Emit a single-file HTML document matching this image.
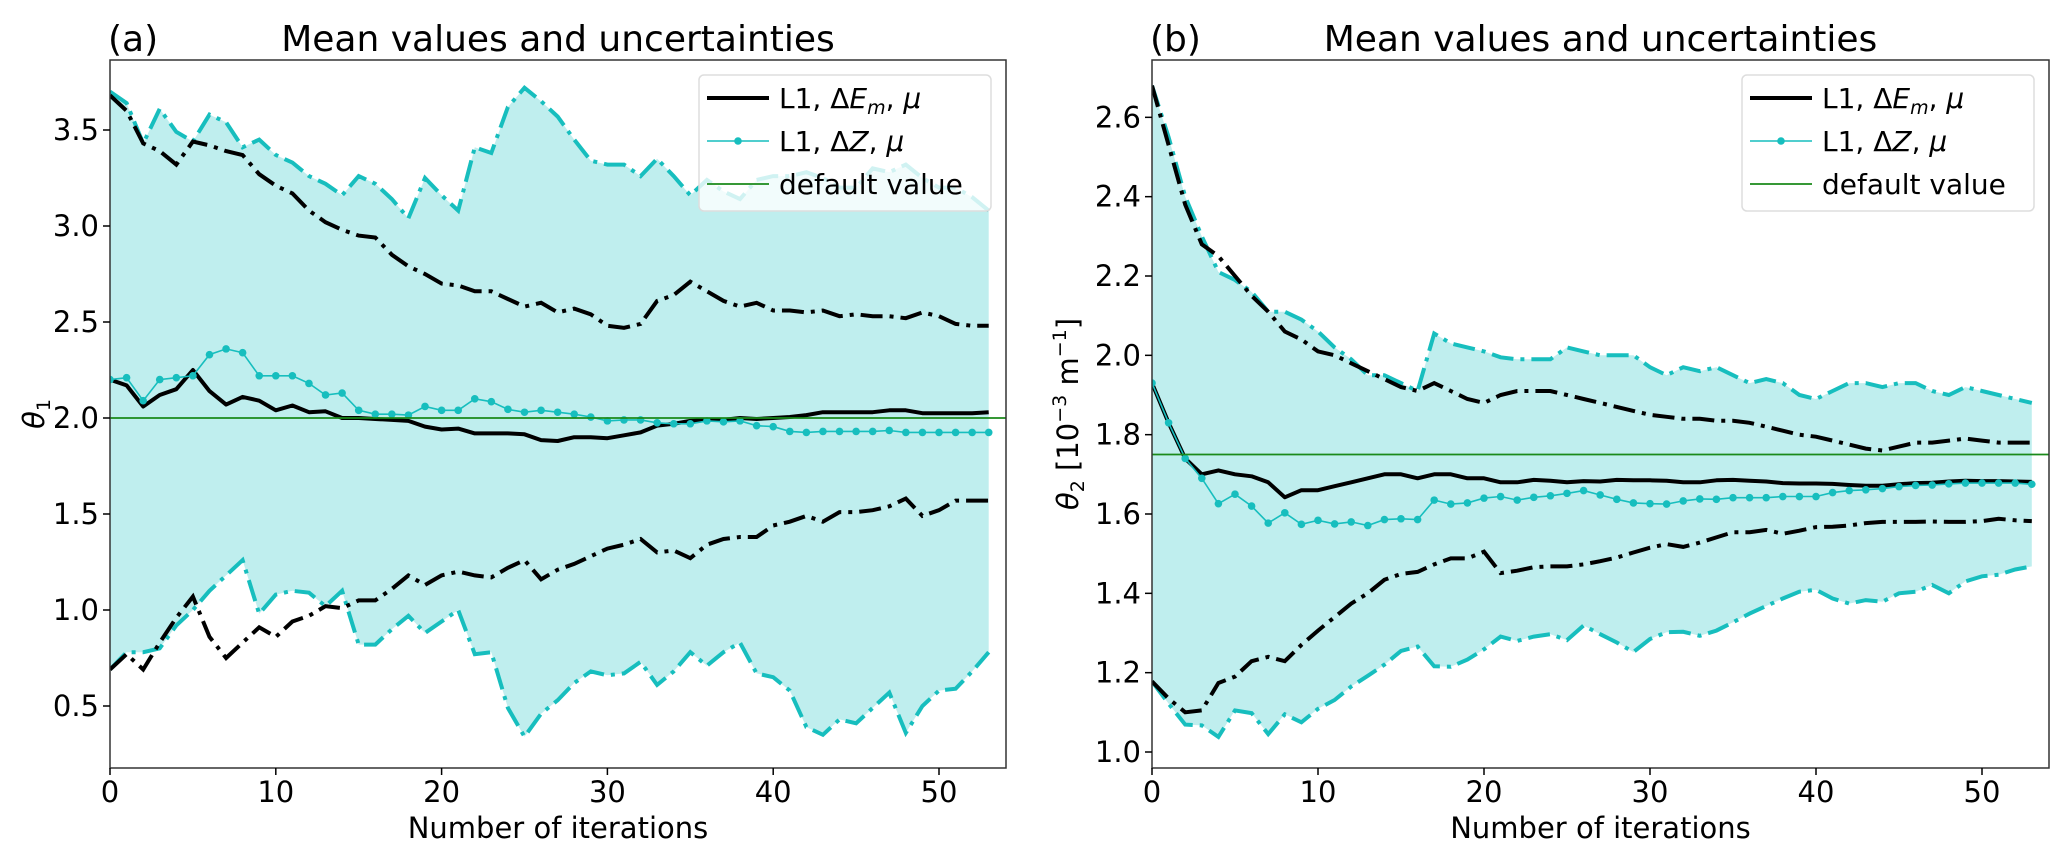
<!DOCTYPE html>
<html><head><meta charset="utf-8"><style>
html,body{margin:0;padding:0;background:#fff}
svg{display:block;font-family:"DejaVu Sans","Liberation Sans",sans-serif}
</style></head><body>
<svg id="fig" width="2067" height="849" viewBox="0 0 2067 849" xmlns="http://www.w3.org/2000/svg"></svg>
<script>
const iterations = Array.from({length:54},(_,i)=>i);
// Panel (a)
const aMeanE = [2.20,2.17,2.06,2.12,2.15,2.25,2.14,2.07,2.11,2.09,2.04,2.065,2.03,2.035,2.0,2.0,1.995,1.99,1.985,1.955,1.94,1.945,1.92,1.92,1.92,1.915,1.885,1.88,1.9,1.9,1.895,1.91,1.925,1.96,1.97,1.985,1.99,1.99,2.0,1.995,2.0,2.005,2.015,2.03,2.03,2.03,2.03,2.04,2.04,2.025,2.025,2.025,2.025,2.03];
const aUpE = [3.68,3.60,3.43,3.39,3.32,3.44,3.42,3.39,3.37,3.27,3.21,3.17,3.08,3.02,2.98,2.95,2.94,2.85,2.79,2.75,2.70,2.69,2.66,2.66,2.62,2.58,2.60,2.55,2.57,2.54,2.48,2.47,2.49,2.61,2.64,2.71,2.66,2.61,2.58,2.60,2.56,2.56,2.55,2.56,2.53,2.54,2.53,2.53,2.52,2.55,2.53,2.49,2.48,2.48];
const aLoE = [0.69,0.77,0.69,0.83,0.96,1.07,0.86,0.75,0.83,0.91,0.86,0.94,0.97,1.02,1.01,1.05,1.05,1.11,1.18,1.13,1.18,1.20,1.18,1.17,1.22,1.26,1.16,1.21,1.24,1.28,1.32,1.34,1.37,1.30,1.31,1.27,1.34,1.37,1.38,1.38,1.44,1.46,1.49,1.46,1.51,1.51,1.52,1.54,1.58,1.49,1.52,1.57,1.57,1.57];
const aMeanZ = [2.20,2.21,2.09,2.20,2.21,2.22,2.33,2.36,2.34,2.22,2.22,2.22,2.18,2.12,2.13,2.04,2.02,2.02,2.015,2.06,2.04,2.04,2.10,2.085,2.045,2.03,2.04,2.03,2.02,2.005,1.985,1.99,1.99,1.975,1.97,1.97,1.985,1.98,1.985,1.96,1.955,1.93,1.925,1.93,1.93,1.93,1.93,1.935,1.925,1.925,1.925,1.925,1.925,1.925];
const aUpZ = [3.70,3.64,3.43,3.61,3.49,3.44,3.58,3.54,3.41,3.45,3.37,3.33,3.26,3.22,3.16,3.26,3.22,3.14,3.04,3.25,3.16,3.08,3.41,3.38,3.62,3.72,3.65,3.57,3.45,3.34,3.32,3.32,3.26,3.35,3.26,3.16,3.24,3.18,3.14,3.24,3.26,3.26,3.28,3.25,3.20,3.20,3.30,3.28,3.32,3.25,3.20,3.20,3.15,3.08];
const aLoZ = [0.69,0.78,0.78,0.80,0.92,1.00,1.10,1.18,1.26,0.98,1.08,1.10,1.09,1.02,1.10,0.82,0.82,0.90,0.97,0.88,0.94,1.00,0.77,0.78,0.49,0.34,0.46,0.53,0.62,0.68,0.66,0.67,0.73,0.61,0.68,0.78,0.71,0.78,0.83,0.67,0.65,0.58,0.39,0.35,0.43,0.41,0.49,0.57,0.36,0.50,0.58,0.59,0.68,0.78];
const aDefault = 2.0;
const aYTicks = [0.5,1.0,1.5,2.0,2.5,3.0,3.5];
// Panel (b)
const bMeanE = [1.93,1.83,1.74,1.70,1.71,1.70,1.695,1.68,1.642,1.66,1.66,1.67,1.68,1.69,1.70,1.70,1.69,1.70,1.70,1.69,1.69,1.68,1.68,1.686,1.684,1.68,1.683,1.682,1.686,1.685,1.685,1.684,1.68,1.68,1.685,1.686,1.684,1.682,1.678,1.677,1.677,1.676,1.673,1.671,1.671,1.675,1.678,1.679,1.682,1.684,1.683,1.683,1.682,1.681];
const bUpE = [2.68,2.53,2.38,2.28,2.25,2.20,2.15,2.11,2.06,2.04,2.01,2.0,1.98,1.96,1.94,1.92,1.91,1.93,1.91,1.89,1.88,1.90,1.91,1.91,1.91,1.90,1.89,1.88,1.87,1.86,1.85,1.845,1.84,1.84,1.835,1.835,1.83,1.82,1.81,1.80,1.795,1.785,1.775,1.765,1.76,1.77,1.78,1.78,1.785,1.79,1.785,1.78,1.78,1.78];
const bLoE = [1.178,1.135,1.10,1.105,1.174,1.19,1.229,1.24,1.229,1.27,1.306,1.34,1.374,1.40,1.434,1.449,1.454,1.473,1.488,1.488,1.505,1.451,1.457,1.466,1.468,1.468,1.473,1.481,1.49,1.503,1.515,1.524,1.517,1.528,1.541,1.554,1.554,1.56,1.55,1.558,1.567,1.568,1.571,1.577,1.58,1.58,1.58,1.581,1.58,1.58,1.582,1.588,1.584,1.582];
const bMeanZ = [1.93,1.83,1.74,1.69,1.626,1.65,1.62,1.577,1.603,1.574,1.584,1.575,1.58,1.571,1.586,1.588,1.586,1.635,1.625,1.628,1.64,1.644,1.635,1.642,1.646,1.652,1.659,1.648,1.637,1.628,1.626,1.625,1.633,1.638,1.637,1.641,1.641,1.641,1.644,1.644,1.644,1.654,1.659,1.661,1.664,1.669,1.672,1.673,1.676,1.678,1.678,1.678,1.678,1.675];
const bUpZ = [2.68,2.55,2.40,2.30,2.21,2.19,2.16,2.11,2.11,2.09,2.06,2.02,1.99,1.95,1.95,1.93,1.91,2.055,2.03,2.02,2.01,1.995,1.99,1.99,1.99,2.02,2.01,2.0,2.0,2.0,1.97,1.95,1.97,1.96,1.97,1.95,1.93,1.94,1.93,1.90,1.89,1.91,1.93,1.93,1.92,1.93,1.93,1.91,1.90,1.92,1.91,1.90,1.89,1.88];
const bLoZ = [1.178,1.122,1.069,1.067,1.038,1.105,1.098,1.045,1.095,1.075,1.109,1.131,1.165,1.192,1.22,1.255,1.266,1.216,1.215,1.233,1.259,1.291,1.28,1.291,1.297,1.282,1.319,1.297,1.276,1.252,1.285,1.302,1.303,1.293,1.306,1.327,1.349,1.368,1.387,1.404,1.409,1.387,1.374,1.383,1.379,1.40,1.404,1.421,1.40,1.43,1.443,1.447,1.46,1.468];
const bDefault = 1.75;
const bYTicks = [1.0,1.2,1.4,1.6,1.8,2.0,2.2,2.4,2.6];
const xTicks = [0,10,20,30,40,50];

const NS="http://www.w3.org/2000/svg";
const svg=document.getElementById('fig');
function el(tag,attrs,parent){const e=document.createElementNS(NS,tag);for(const k in attrs)e.setAttribute(k,attrs[k]);(parent||svg).appendChild(e);return e;}

function panel(cfg){
  const g=el('g',{});
  
  
  const X=v=>cfg.left+(v-0)*(cfg.x50-cfg.left)/50;
  const Y=v=>cfg.yRef1+(v-cfg.vRef1)*(cfg.yRef2-cfg.yRef1)/(cfg.vRef2-cfg.vRef1);
  const cid='clip'+cfg.tag;
  const cp=el('clipPath',{id:cid},g);el('rect',{x:cfg.left,y:cfg.top,width:cfg.right-cfg.left,height:cfg.bottom-cfg.top},cp);
  const pg=el('g',{'clip-path':'url(#'+cid+')'},g);
  const pts=arr=>arr.map((v,i)=>X(iterations[i]).toFixed(1)+','+Y(v).toFixed(1));
  const fill=el('polygon',{points:pts(cfg.upZ).concat(pts(cfg.loZ).reverse()).join(' '),fill:'#bfeeee',stroke:'none'},pg);
  
  
  const dd='22 7 4 7';
  const l1=el('polyline',{points:pts(cfg.upZ).join(' '),fill:'none',stroke:'#17bebe','stroke-width':4,'stroke-dasharray':dd},pg);
  
  
  const l2=el('polyline',{points:pts(cfg.loZ).join(' '),fill:'none',stroke:'#17bebe','stroke-width':4,'stroke-dasharray':dd},pg);
  
  
  const l3=el('polyline',{points:pts(cfg.upE).join(' '),fill:'none',stroke:'#000','stroke-width':4,'stroke-dasharray':dd},pg);
  
  
  const l4=el('polyline',{points:pts(cfg.loE).join(' '),fill:'none',stroke:'#000','stroke-width':4,'stroke-dasharray':dd},pg);
  
  
  const l5=el('polyline',{points:pts(cfg.meanE).join(' '),fill:'none',stroke:'#000','stroke-width':4,'stroke-linejoin':'round'},pg);
  
  
  const l6=el('polyline',{points:pts(cfg.meanZ).join(' '),fill:'none',stroke:'#17bebe','stroke-width':1.6},pg);
  
  
  cfg.meanZ.forEach((v,i)=>{const c=el('circle',{cx:X(iterations[i]),cy:Y(v),r:3.8,fill:'#17bebe'},pg);
    
    });
  const gl=el('line',{x1:cfg.left,x2:cfg.right,y1:Y(cfg.def),y2:Y(cfg.def),stroke:'#1a8a1a','stroke-width':1.8},pg);
  
  
  const fr=el('rect',{x:cfg.left,y:cfg.top,width:cfg.right-cfg.left,height:cfg.bottom-cfg.top,fill:'none',stroke:'#333','stroke-width':1.5},g);
  
  
  xTicks.forEach(t=>{const x=X(t);el('line',{x1:x,x2:x,y1:cfg.bottom,y2:cfg.bottom+7,stroke:'#000','stroke-width':1.5},g);
    const tx=el('text',{x:x,y:802,'text-anchor':'middle','font-size':29,fill:'#000'},g);tx.textContent=t;
    
    });
  cfg.yTicks.forEach(t=>{const y=Y(t);el('line',{x1:cfg.left-7,x2:cfg.left,y1:y,y2:y,stroke:'#000','stroke-width':1.5},g);
    const tx=el('text',{x:cfg.left-11,y:y+10,'text-anchor':'end','font-size':29,fill:'#000'},g);tx.textContent=t.toFixed(1);
    
    });
  const xl=el('text',{x:(cfg.left+cfg.right)/2,y:838,'text-anchor':'middle','font-size':29,fill:'#000'},g);xl.textContent='Number of iterations';
  
  
  const ti=el('text',{x:(cfg.left+cfg.right)/2,y:51,'text-anchor':'middle','font-size':36,fill:'#000'},g);ti.textContent='Mean values and uncertainties';
  
  
  const pl=el('text',{x:cfg.left-2,y:51,'font-size':36,fill:'#000'},g);pl.textContent=cfg.label;
  
  
  const yl=el('text',{transform:'translate('+cfg.ylx+','+((cfg.top+cfg.bottom)/2)+') rotate(-90)','text-anchor':'middle','font-size':29,fill:'#000'},g);
  yl.innerHTML=cfg.ylab;
  
  
  const lx=cfg.right-307, ly=75;
  const lg=el('g',{},g);
  
  
  el('rect',{x:lx,y:ly,width:292,height:136,rx:5,fill:'rgba(255,255,255,0.8)',stroke:'#ddd','stroke-width':1.5},lg);
  el('line',{x1:lx+8,x2:lx+70,y1:ly+23,y2:ly+23,stroke:'#000','stroke-width':4},lg);
  el('line',{x1:lx+8,x2:lx+70,y1:ly+66,y2:ly+66,stroke:'#17bebe','stroke-width':1.6},lg);
  el('circle',{cx:lx+39,cy:ly+66,r:3.8,fill:'#17bebe'},lg);
  el('line',{x1:lx+8,x2:lx+70,y1:ly+109,y2:ly+109,stroke:'#1a8a1a','stroke-width':1.8},lg);
  const t1=el('text',{x:lx+80,y:ly+33,'font-size':28,fill:'#000'},lg);
  t1.innerHTML='L1, Δ<tspan font-style="italic">E</tspan><tspan font-style="italic" font-size="19" dy="6">m</tspan><tspan dy="-6">, </tspan><tspan font-style="italic">μ</tspan>';
  
  
  const t2=el('text',{x:lx+80,y:ly+76,'font-size':28,fill:'#000'},lg);
  t2.innerHTML='L1, Δ<tspan font-style="italic">Z</tspan>, <tspan font-style="italic">μ</tspan>';
  
  
  const t3=el('text',{x:lx+80,y:ly+119,'font-size':28,fill:'#000'},lg);
  t3.textContent='default value';
  
  
}

panel({name:'panel-a',tag:'a',label:'(a)',left:110,right:1006,top:60,bottom:768,x50:939,
  yRef1:610,vRef1:1.0,yRef2:418,vRef2:2.0,yTicks:aYTicks,
  meanE:aMeanE,upE:aUpE,loE:aLoE,meanZ:aMeanZ,upZ:aUpZ,loZ:aLoZ,def:aDefault,ylx:44,
  ylab:'<tspan font-style="italic">θ</tspan><tspan font-size="19" dy="6">1</tspan>'});
panel({name:'panel-b',tag:'b',label:'(b)',left:1152,right:2049,top:60,bottom:768,x50:1982,
  yRef1:752,vRef1:1.0,yRef2:514,vRef2:1.6,yTicks:bYTicks,
  meanE:bMeanE,upE:bUpE,loE:bLoE,meanZ:bMeanZ,upZ:bUpZ,loZ:bLoZ,def:bDefault,ylx:1078,
  ylab:'<tspan font-style="italic">θ</tspan><tspan font-size="19" dy="6">2</tspan><tspan dy="-6"> [10</tspan><tspan font-size="19" dy="-12">−3</tspan><tspan dy="12"> m</tspan><tspan font-size="19" dy="-12">−1</tspan><tspan dy="12">]</tspan>'});
</script>
</body></html>
